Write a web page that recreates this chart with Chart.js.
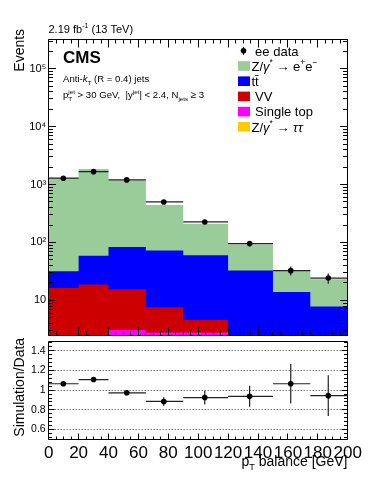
<!DOCTYPE html>
<html>
<head>
<meta charset="utf-8">
<script src="https://cdn.jsdelivr.net/npm/chart.js@4.4.1/dist/chart.umd.min.js"></script>
<style>
body { margin: 0; background: #fff; }
#wrap { position: relative; width: 374px; height: 484px; }
#wrap canvas { position: absolute; left: 0; }
</style>
</head>
<body>
<div id="wrap">
<canvas id="mainPad" width="374" height="339" style="top:0"></canvas>
<canvas id="ratioPad" width="374" height="147" style="top:337px"></canvas>
</div>
<script>
// pT balance bins [GeV]
const binEdges = [0, 20, 40, 65, 90, 120, 150, 175, 200];

// simulated yields per bin (stacked in the plot)
const zee       = [1318, 1791, 1096, 371, 151, 59.4, 19.4, 15.3];
const ttbar     = [15.4, 40.2, 67.7, 65.4, 55.5, 30.6, 12.5, 6.9];
const diboson   = [14.4, 16.4, 12.55, 4.8, 1.8, 0.8, 0.6, 0.4];
const singleTop = [1.6, 2.0, 2.73, 2.6, 2.7, 1.4, 0.8, 0.5];
const ztautau   = [0.3, 0.4, 0.35, 0.2, 0.1, 0.05, 0.02, 0.01];

// ee data
const dataX   = [9.8, 30, 52.2, 77, 104.4, 134.4, 161.9, 187];
const dataY   = [1282, 1667, 1202, 500, 226, 95.5, 32.6, 24.3];
const dataErr = [36, 41, 35, 22, 15, 9.8, 5.7, 4.9];

// simulation / data
const ratioY   = [1.065, 1.108, 0.973, 0.885, 0.924, 0.937, 1.065, 0.944];
const ratioErr = [0.02, 0.02, 0.022, 0.043, 0.07, 0.107, 0.2, 0.207];

const xTicks = [0, 20, 40, 60, 80, 100, 120, 140, 160, 180, 200];
const logTicks = [10, 100, 1000, 10000, 100000];
const ratioTicks = [0.6, 0.8, 1, 1.2, 1.4];

const FONT = "'Liberation Sans', Arial, Helvetica, sans-serif";

const procs = [
    {label: 'Z/@{γ}^{*} → e^{+}e^{−}', color: '#99cc99', vals: zee},
    {label: 'tt\u0304', color: '#0000ff', vals: ttbar},
    {label: ' VV', color: '#cc0000', vals: diboson},
    {label: ' Single top', color: '#ff00ff', vals: singleTop},
    {label: 'Z/@{γ}^{*} → @{ττ}', color: '#ffcc00', vals: ztautau}
];

// stack from the bottom (last entry) up
let run = binEdges.slice(1).map(() => 0);
const cums = [];
for (let k = procs.length - 1; k >= 0; k--) {
    run = run.map((v, i) => v + procs[k].vals[i]);
    cums[k] = run;
}

function stepPoints(vals) {
    return binEdges.map((x, i) => ({x: x, y: vals[Math.min(i, vals.length - 1)]}));
}

function crisp(p) { return Math.round(p - 0.5) + 0.5; }

// no extra room for end labels, the pads are placed by hand
function noPad(s) { s.paddingTop = 0; s.paddingBottom = 0; s.paddingLeft = 0; s.paddingRight = 0; }

// tiny latex-ish text: ^{sup} _{sub} @{italic}
function richText(ctx, str, x, y, size, opts) {
    opts = opts || {};
    const toks = [];
    const re = /([\^_@])\{([^}]*)\}|([^\^_@]+|[\^_@])/g;
    let m;
    while ((m = re.exec(str))) {
        if (m[1]) toks.push({t: m[2], m: m[1]});
        else toks.push({t: m[3], m: ''});
    }
    const weight = opts.bold ? 'bold ' : '';
    const items = [];
    let cx = 0, subStart = 0;
    toks.forEach((tk, i) => {
        const small = tk.m === '^' || tk.m === '_';
        const fs = small ? size * 0.65 : size;
        const font = (tk.m === '@' ? 'italic ' : '') + weight + fs + 'px ' + FONT;
        ctx.font = font;
        const w = ctx.measureText(tk.t).width;
        let tx = cx;
        if (tk.m === '^' && i > 0 && toks[i - 1].m === '_') tx = subStart;
        const dy = tk.m === '^' ? -size * 0.42 : tk.m === '_' ? size * 0.3 : 0;
        items.push({t: tk.t, font: font, x: tx, dy: dy});
        if (tk.m === '_') subStart = tx;
        cx = Math.max(cx, tx + w);
    });
    const x0 = opts.align === 'right' ? x - cx : x;
    ctx.fillStyle = opts.color || '#000';
    ctx.textAlign = 'left';
    ctx.textBaseline = 'alphabetic';
    items.forEach(it => {
        ctx.font = it.font;
        ctx.fillText(it.t, x0 + it.x, y + it.dy);
    });
    return cx;
}

function errorBarPlugin(ys, errs) {
    return {
        id: 'errorBars',
        beforeDatasetDraw(chart, args) {
            if (args.index !== 0) return;
            const ctx = chart.ctx, x = chart.scales.x, y = chart.scales.y;
            ctx.save();
            ctx.strokeStyle = '#222';
            ctx.lineWidth = 1.2;
            ctx.beginPath();
            dataX.forEach((xv, i) => {
                const py = y.getPixelForValue(ys[i]);
                ctx.moveTo(x.getPixelForValue(binEdges[i]), py);
                ctx.lineTo(x.getPixelForValue(binEdges[i + 1]), py);
                const px = x.getPixelForValue(xv);
                ctx.moveTo(px, y.getPixelForValue(ys[i] - errs[i]));
                ctx.lineTo(px, y.getPixelForValue(ys[i] + errs[i]));
            });
            ctx.stroke();
            ctx.restore();
        }
    };
}

function framePlugin(xMarks, yMarks, topTicks) {
    return {
        id: 'frame',
        afterDraw(chart) {
            const ctx = chart.ctx, a = chart.chartArea, x = chart.scales.x, y = chart.scales.y;
            const L = crisp(a.left), R = crisp(a.right), T = crisp(a.top), B = crisp(a.bottom);
            ctx.save();
            ctx.strokeStyle = '#000';
            ctx.lineWidth = 1;
            ctx.beginPath();
            ctx.rect(L, T, R - L, B - T);
            xMarks.forEach(mk => {
                const px = crisp(x.getPixelForValue(mk[0]));
                ctx.moveTo(px, B); ctx.lineTo(px, B - mk[1]);
                if (topTicks) { ctx.moveTo(px, T); ctx.lineTo(px, T + mk[1]); }
            });
            yMarks.forEach(mk => {
                const py = crisp(y.getPixelForValue(mk[0]));
                ctx.moveTo(L, py); ctx.lineTo(L + mk[1], py);
                ctx.moveTo(R, py); ctx.lineTo(R - mk[1], py);
            });
            ctx.stroke();
            ctx.restore();
        }
    };
}

// tick marks drawn ROOT style (inside the frame)
const xMarksTop = [], xMarksRatio = [];
for (let v = 0; v <= 200; v += 5) {
    xMarksTop.push([v, v % 20 === 0 ? 8 : 4]);
    xMarksRatio.push([v, v % 20 === 0 ? 6 : 3]);
}
const yMarksLog = [];
for (let e = 0; e <= 5; e++) {
    for (let k = 1; k <= 9; k++) {
        const v = k * Math.pow(10, e);
        if (v > 2.6 && v < 3.2e5) yMarksLog.push([v, k === 1 ? 7.5 : 4.5]);
    }
}
const yMarksRatio = [];
for (let k = 13; k <= 37; k++) yMarksRatio.push([k * 0.04, k % 5 === 0 ? 6 : 3.5]);

const supDigits = {2: '²', 3: '³', 4: '⁴', 5: '⁵'};

const mainText = {
    id: 'mainText',
    afterDraw(chart) {
        const ctx = chart.ctx;
        ctx.save();
        richText(ctx, '2.19 fb^{-1} (13 TeV)', 48.5, 33, 11);
        richText(ctx, 'CMS', 63, 63, 17, {bold: true});
        richText(ctx, 'Anti-@{k}_{T} (R = 0.4) jets', 63, 82, 9.6);
        richText(ctx, 'p_{T}^{jet} > 30 GeV,  |y^{jet}| < 2.4, N_{jets} ≥ 3', 63, 98.3, 9.6);

        ctx.save();
        ctx.translate(23.5, 71.7);
        ctx.rotate(-Math.PI / 2);
        richText(ctx, 'Events', 0, 0, 14);
        ctx.restore();

        // legend
        const rowY = k => 50.8 + 15.2 * k;
        const ds = chart.data.datasets;
        ctx.fillStyle = '#000';
        ctx.beginPath();
        ctx.arc(243.5, rowY(0), 2.8, 0, Math.PI * 2);
        ctx.fill();
        ctx.fillRect(243, rowY(0) - 4, 1, 8);
        richText(ctx, ds[0].label, 251.5, rowY(0) + 4.7, 13);
        procs.forEach((p, k) => {
            const cy = rowY(k + 1);
            ctx.fillStyle = p.color;
            ctx.fillRect(238, cy - 4.8, 12, 9.6);
            richText(ctx, p.label, 251.5, cy + 4.7, 13);
        });
        ctx.restore();
    }
};

const ratioText = {
    id: 'ratioText',
    beforeDatasetsDraw(chart) {
        const ctx = chart.ctx, a = chart.chartArea, y = chart.scales.y;
        ctx.save();
        ctx.strokeStyle = '#444';
        ctx.lineWidth = 1;
        ctx.setLineDash([1, 2]);
        ctx.beginPath();
        ratioTicks.forEach(v => {
            const py = crisp(y.getPixelForValue(v));
            ctx.moveTo(a.left, py);
            ctx.lineTo(a.right, py);
        });
        ctx.stroke();
        ctx.restore();
    },
    afterDraw(chart) {
        const ctx = chart.ctx;
        ctx.save();
        richText(ctx, 'p_{T} balance [GeV]', 347.5, 129, 14, {align: 'right'});
        ctx.translate(23.5, 99.7);
        ctx.rotate(-Math.PI / 2);
        richText(ctx, 'Simulation/Data', 0, 0, 14);
        ctx.restore();
    }
};

const dataPoint = {showLine: false, pointRadius: 2.8, pointBackgroundColor: '#000', pointBorderColor: '#000', pointBorderWidth: 0, order: 0};

var mainPad = new Chart(document.getElementById('mainPad'), {
    type: 'line',
    data: {
        datasets: [Object.assign({label: ' ee data', data: dataX.map((x, i) => ({x: x, y: dataY[i]}))}, dataPoint)]
            .concat(procs.map((p, k) => ({
                label: p.label,
                data: stepPoints(cums[k]),
                stepped: 'before',
                fill: 'start',
                backgroundColor: p.color,
                borderWidth: 0,
                pointRadius: 0,
                order: procs.length - k
            })))
    },
    options: {
        responsive: false,
        animation: false,
        devicePixelRatio: 1,
        layout: {padding: {left: 0, top: 39, right: 26.3, bottom: 0.7}},
        plugins: {legend: {display: false}, tooltip: {enabled: false}},
        scales: {
            x: {type: 'linear', min: 0, max: 200, display: false},
            y: {
                type: 'logarithmic', min: 2.527, max: 3.25e5,
                afterBuildTicks: s => { s.ticks = logTicks.map(v => ({value: v})); },
                afterFit: s => { s.width = 48.7; noPad(s); },
                grid: {display: false, drawTicks: false},
                border: {display: false},
                ticks: {
                    padding: 2.5, color: '#000', font: {family: FONT, size: 11},
                    callback: v => {
                        const e = Math.round(Math.log10(v));
                        return e === 1 ? '10' : '10' + supDigits[e];
                    }
                }
            }
        }
    },
    plugins: [errorBarPlugin(dataY, dataErr), framePlugin(xMarksTop, yMarksLog, true), mainText]
});

var ratioPad = new Chart(document.getElementById('ratioPad'), {
    type: 'line',
    data: {
        datasets: [Object.assign({label: 'Simulation/Data', data: dataX.map((x, i) => ({x: x, y: ratioY[i]}))}, dataPoint)]
    },
    options: {
        responsive: false,
        animation: false,
        devicePixelRatio: 1,
        layout: {padding: {left: 0, top: 2.3, right: 26.3, bottom: 0}},
        plugins: {legend: {display: false}, tooltip: {enabled: false}},
        scales: {
            x: {
                type: 'linear', min: 0, max: 200,
                afterBuildTicks: s => { s.ticks = xTicks.map(v => ({value: v})); },
                afterFit: s => { s.height = 44.7; noPad(s); },
                grid: {display: false, drawTicks: false},
                border: {display: false},
                ticks: {autoSkip: false, maxRotation: 0, padding: 4, color: '#000', font: {family: FONT, size: 17}, callback: v => String(v)}
            },
            y: {
                min: 0.5, max: 1.5,
                afterBuildTicks: s => { s.ticks = ratioTicks.map(v => ({value: v})); },
                afterFit: s => { s.width = 48.7; noPad(s); },
                grid: {display: false, drawTicks: false},
                border: {display: false},
                ticks: {padding: 3, color: '#000', font: {family: FONT, size: 10.5}, callback: v => String(v)}
            }
        }
    },
    plugins: [errorBarPlugin(ratioY, ratioErr), framePlugin(xMarksRatio, yMarksRatio, false), ratioText]
});
</script>
</body>
</html>
